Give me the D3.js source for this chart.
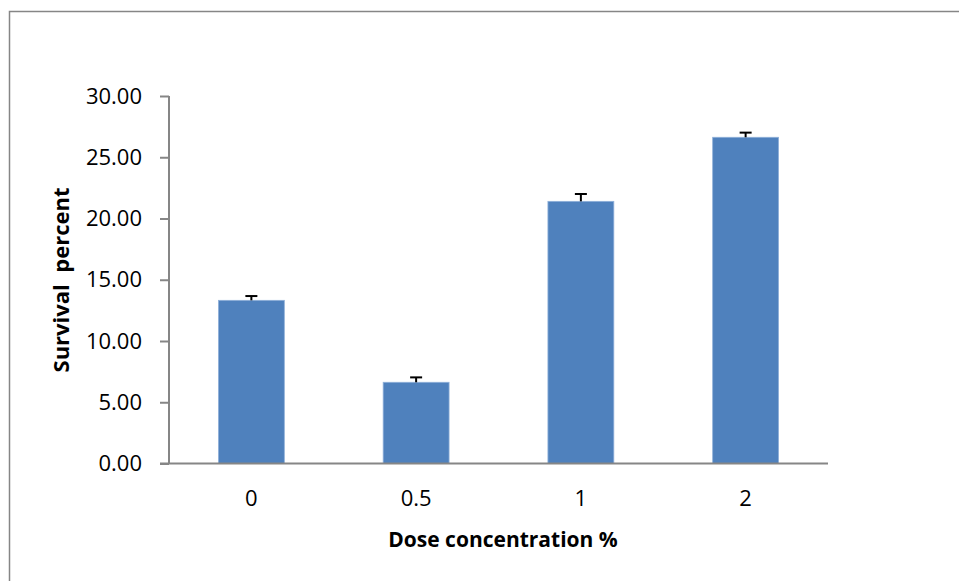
<!DOCTYPE html>
<html>
<head>
<meta charset="utf-8">
<title>Survival percent</title>
<script src="https://cdn.jsdelivr.net/npm/d3@7"></script>
<style>
    body { margin: 0; background: #fff; }
    text { font-family: "Open Sans", "Noto Sans", sans-serif; fill: #000; }
</style>
</head>
<body>
<div id="chart-area"></div>
<script>
// values
const categories = ['0', '0.5', '1', '2'];
const survival = [13.32, 6.63, 21.4, 26.63];
const errors = [0.35, 0.4, 0.6, 0.38];
const yTicks = [0, 5, 10, 15, 20, 25, 30];

;(function () {
    'use strict';

    const WIDTH = 959;
    const HEIGHT = 581;
    const PLOT = {left: 169, right: 828, top: 96, bottom: 463.5};
    const AXIS_COLOR = '#868686';
    const BAR_COLOR = '#4F81BD';

    const svg = d3.select('#chart-area').append('svg')
        .attr('width', WIDTH)
        .attr('height', HEIGHT);

    // chart frame, runs off the right and bottom edges
    svg.append('rect')
        .attr('x', 9.5)
        .attr('y', 11.5)
        .attr('width', WIDTH)
        .attr('height', HEIGHT)
        .attr('fill', 'none')
        .attr('stroke', AXIS_COLOR)
        .attr('stroke-width', 1.5);

    const xScale = d3.scaleBand()
        .domain(categories)
        .range([PLOT.left, PLOT.right])
        .paddingInner(0.6)
        .paddingOuter(0.3);

    const yScale = d3.scaleLinear()
        .domain([0, 30])
        .range([PLOT.bottom, PLOT.top]);

    // bars
    svg.append('g').selectAll('rect')
        .data(survival)
        .enter()
        .append('rect')
        .attr('x', (d, i) => xScale(categories[i]))
        .attr('y', d => yScale(d))
        .attr('width', xScale.bandwidth())
        .attr('height', d => yScale(0) - yScale(d))
        .attr('fill', BAR_COLOR)
        .attr('stroke', '#8FB0D9')
        .attr('stroke-width', 0.8);

    // error bars (plus side only)
    const errGroup = svg.append('g')
        .attr('stroke', '#000')
        .attr('stroke-width', 2);
    survival.forEach((d, i) => {
        const cx = xScale(categories[i]) + xScale.bandwidth() / 2;
        errGroup.append('line')
            .attr('x1', cx).attr('x2', cx)
            .attr('y1', yScale(d)).attr('y2', yScale(d + errors[i]));
        errGroup.append('line')
            .attr('x1', cx - 6).attr('x2', cx + 6)
            .attr('y1', yScale(d + errors[i])).attr('y2', yScale(d + errors[i]));
    });

    // y axis
    const yAxisGroup = svg.append('g')
        .attr('class', 'y-axis-group')
        .attr('transform', `translate(${PLOT.left}, 0)`)
        .call(d3.axisLeft(yScale)
            .tickValues(yTicks)
            .tickSize(9)
            .tickPadding(18)
            .tickFormat(d3.format('.2f')));
    yAxisGroup.select('.domain')
        .attr('stroke', AXIS_COLOR)
        .attr('stroke-width', 2)
        .attr('d', `M0,${PLOT.top}V${PLOT.bottom}`);
    yAxisGroup.selectAll('.tick line')
        .attr('stroke', AXIS_COLOR)
        .attr('stroke-width', 2);
    yAxisGroup.selectAll('.tick text')
        .attr('font-size', '22px')
        .attr('font-family', '"Open Sans", sans-serif');

    // x axis
    const xAxisGroup = svg.append('g')
        .attr('class', 'x-axis-group')
        .attr('transform', `translate(0, ${PLOT.bottom})`)
        .call(d3.axisBottom(xScale).tickSize(0).tickPadding(27));
    xAxisGroup.select('.domain')
        .attr('stroke', AXIS_COLOR)
        .attr('stroke-width', 2)
        .attr('d', `M${PLOT.left - 9},0H${PLOT.right}`);
    xAxisGroup.selectAll('.tick text')
        .attr('font-size', '22px')
        .attr('font-family', '"Open Sans", sans-serif');

    // axis titles
    svg.append('text')
        .attr('class', 'x-axis-label')
        .attr('x', 503)
        .attr('y', 547)
        .attr('text-anchor', 'middle')
        .attr('font-size', '21px')
        .attr('font-weight', 'bold')
        .text('Dose concentration %');

    svg.append('text')
        .attr('class', 'y-axis-label')
        .attr('transform', 'rotate(-90)')
        .attr('x', -280)
        .attr('y', 69)
        .attr('text-anchor', 'middle')
        .attr('font-size', '22px')
        .attr('font-weight', 'bold')
        .style('white-space', 'pre')
        .text('Survival  percent');
})();
</script>
</body>
</html>
